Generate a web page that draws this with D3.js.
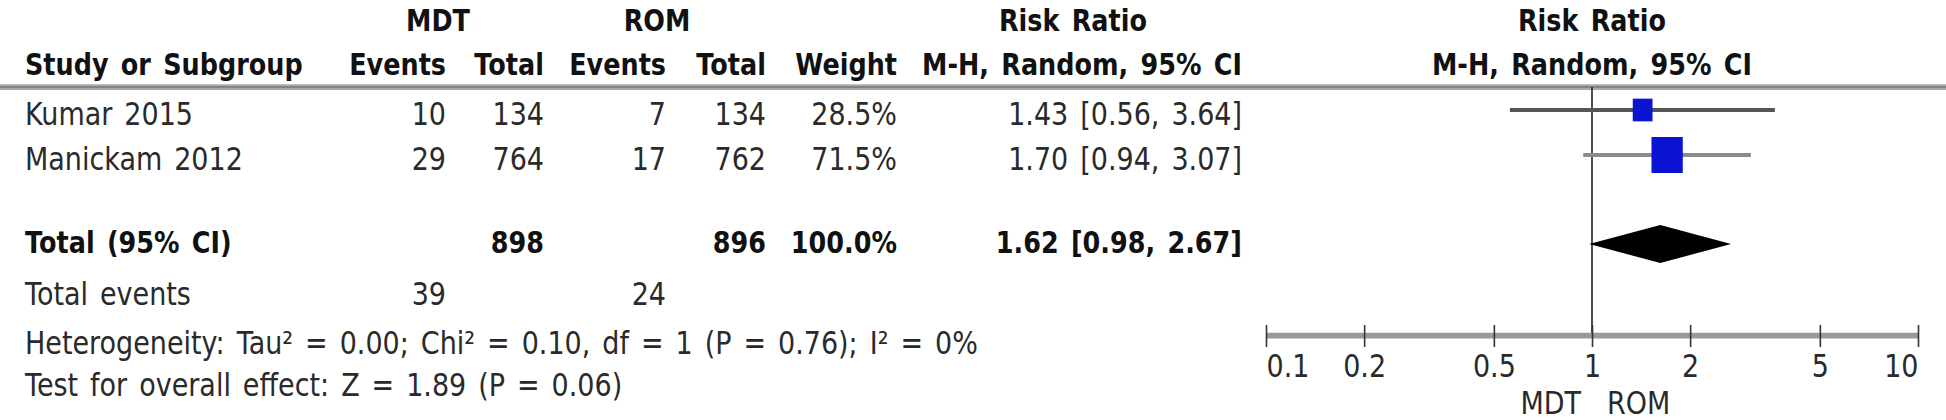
<!DOCTYPE html>
<html>
<head>
<meta charset="utf-8">
<script src="https://cdn.jsdelivr.net/npm/d3@7"></script>
<style>
  body { margin: 0; background: #fff; }
  svg { display: block; }
  text { font-family: "DejaVu Sans", sans-serif; word-spacing: 3.4px; }
</style>
</head>
<body>
<svg id="chart"></svg>
<script>
// data
const studies = ["Kumar 2015", "Manickam 2012"];
const mdtEvents = [10, 29];
const mdtTotal = [134, 764];
const romEvents = [7, 17];
const romTotal = [134, 762];
const weights = [28.5, 71.5];
const rr = [1.43, 1.70];
const rrLow = [0.56, 0.94];
const rrHigh = [3.64, 3.07];
const pooled = [1.62, 0.98, 2.67];
const totalN = [898, 896];
const totalEvents = [39, 24];
const tickValues = [0.1, 0.2, 0.5, 1, 2, 5, 10];
const footer = [
    "Heterogeneity: Tau\u00b2 = 0.00; Chi\u00b2 = 0.10, df = 1 (P = 0.76); I\u00b2 = 0%",
    "Test for overall effect: Z = 1.89 (P = 0.06)"
];

const W = 1946, H = 420, SY = 1.15;
const sy = v => v / SY;   // screen px -> stretched group units

const svg = d3.select("#chart").attr("width", W).attr("height", H);
const g = svg.append("g").attr("transform", `scale(1,${SY})`);

const fmt2 = d3.format(".2f");
const ciText = (m, l, h) => `${fmt2(m)} [${fmt2(l)}, ${fmt2(h)}]`;

// table columns (right aligned)
let cols = [
    {x: 446, head: "Events", vals: mdtEvents, tot: "", ev: totalEvents[0]},
    {x: 544, head: "Total", vals: mdtTotal, tot: totalN[0], ev: ""},
    {x: 666, head: "Events", vals: romEvents, tot: "", ev: totalEvents[1]},
    {x: 766, head: "Total", vals: romTotal, tot: totalN[1], ev: ""},
    {x: 897, head: "Weight", vals: weights.map(w => w.toFixed(1) + "%"), tot: "100.0%", ev: ""},
    {x: 1242, head: "M-H, Random, 95% CI", vals: rr.map((d, i) => ciText(d, rrLow[i], rrHigh[i])),
        tot: ciText(pooled[0], pooled[1], pooled[2]), ev: ""}
];

let yRow = d3.scalePoint().domain(studies).range([110, 155]);
let x = d3.scaleLog().domain([0.1, 10]).range([1266, 1918]);
let size = d3.scaleSqrt().domain([0, 100]).range([0, 37]);

// header
let head = g.append("g").attr("font-weight", "bold").attr("font-size", 25.5).attr("fill", "#111");
head.append("text").attr("x", 438).attr("y", sy(31)).attr("text-anchor", "middle").text("MDT");
head.append("text").attr("x", 657).attr("y", sy(31)).attr("text-anchor", "middle").text("ROM");
head.append("text").attr("x", 1073).attr("y", sy(31)).attr("text-anchor", "middle").text("Risk Ratio");
head.append("text").attr("x", x(1)).attr("y", sy(31)).attr("text-anchor", "middle").text("Risk Ratio");
head.append("text").attr("x", 25).attr("y", sy(75)).text("Study or Subgroup");
head.selectAll("text.col").data(cols).join("text").attr("class", "col")
    .attr("x", d => d.x).attr("y", sy(75)).attr("text-anchor", "end").text(d => d.head);
head.append("text").attr("x", x(1)).attr("y", sy(75)).attr("text-anchor", "middle").text("M-H, Random, 95% CI");

// header rule
g.append("line").attr("x1", 0).attr("x2", W).attr("y1", sy(87)).attr("y2", sy(87))
    .attr("stroke", "#aaa").attr("stroke-width", 5);
g.append("line").attr("x1", 0).attr("x2", W).attr("y1", sy(87)).attr("y2", sy(87))
    .attr("stroke", "#777").attr("stroke-width", 1.5);

// study rows
let body = g.append("g").attr("font-size", 27).attr("fill", "#2a2a2a");
body.selectAll("text.study").data(studies).join("text").attr("class", "study")
    .attr("x", 25).attr("y", d => sy(yRow(d) + 15)).text(d => d);
cols.forEach(function (c) {
    body.selectAll(null).data(c.vals).join("text")
        .attr("x", c.x).attr("y", (d, i) => sy(yRow(studies[i]) + 15))
        .attr("text-anchor", "end").text(d => d);
});

// total row
let tot = g.append("g").attr("font-size", 25.5).attr("font-weight", "bold").attr("fill", "#111");
tot.append("text").attr("x", 25).attr("y", sy(253)).text("Total (95% CI)");
tot.selectAll("text.t").data(cols.filter(c => c.tot !== "")).join("text").attr("class", "t")
    .attr("x", d => d.x).attr("y", sy(253)).attr("text-anchor", "end").text(d => d.tot);

body.append("text").attr("x", 25).attr("y", sy(305)).text("Total events");
body.selectAll("text.ev").data(cols.filter(c => c.ev !== "")).join("text").attr("class", "ev")
    .attr("x", d => d.x).attr("y", sy(305)).attr("text-anchor", "end").text(d => d.ev);
body.selectAll("text.foot").data(footer).join("text").attr("class", "foot")
    .attr("x", 25).attr("y", (d, i) => sy(354 + i * 42)).text(d => d);

// forest plot
let axisY = 335;
g.append("line").attr("x1", x(1)).attr("x2", x(1)).attr("y1", sy(87)).attr("y2", sy(axisY))
    .attr("stroke", "#222").attr("stroke-width", 1.6);

let ci = g.append("g");
ci.selectAll("line").data(studies).join("line")
    .attr("x1", (d, i) => x(rrLow[i])).attr("x2", (d, i) => x(rrHigh[i]))
    .attr("y1", d => sy(yRow(d))).attr("y2", d => sy(yRow(d)))
    .attr("stroke", (d, i) => i === 0 ? "#555" : "#8a8a8a").attr("stroke-width", 3.5);
ci.selectAll("rect").data(studies).join("rect")
    .attr("x", (d, i) => x(rr[i]) - size(weights[i]) / 2)
    .attr("y", (d, i) => sy(yRow(d)) - size(weights[i]) / 2)
    .attr("width", (d, i) => size(weights[i]))
    .attr("height", (d, i) => size(weights[i]))
    .attr("fill", "#0a14d2");

let dy = sy(244), dh = sy(19);
g.append("path")
    .attr("d", `M${x(pooled[1])},${dy} L${x(pooled[0])},${dy - dh} L${x(pooled[2])},${dy} L${x(pooled[0])},${dy + dh} Z`)
    .attr("fill", "#000");

// axis
let axis = g.append("g").attr("transform", `translate(0,${sy(axisY)})`)
    .call(d3.axisBottom(x).tickValues(tickValues).tickFormat(d => d).tickSizeOuter(0));
axis.select(".domain").attr("stroke", "#9a9a9a").attr("stroke-width", 5);
axis.selectAll(".tick line").attr("y1", sy(-10)).attr("y2", sy(12))
    .attr("stroke", "#333").attr("stroke-width", 1.6);
axis.selectAll(".tick text")
    .attr("y", sy(42)).attr("dy", null)
    .attr("font-family", "DejaVu Sans").attr("font-size", 27).attr("fill", "#2a2a2a")
    .attr("text-anchor", (d, i) => i === 0 ? "start" : (i === tickValues.length - 1 ? "end" : "middle"));

body.append("text").attr("x", x(1) - 11).attr("y", sy(414)).attr("text-anchor", "end").text("MDT");
body.append("text").attr("x", x(1) + 15).attr("y", sy(414)).text("ROM");
</script>
</body>
</html>
